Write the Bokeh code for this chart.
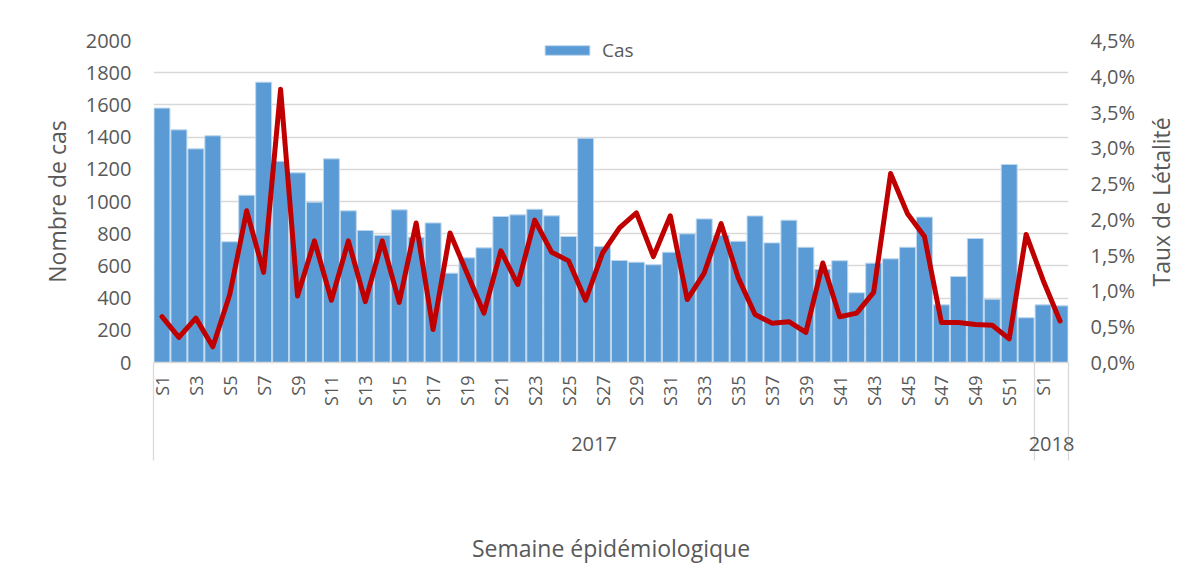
import math
from bokeh.plotting import figure
from bokeh.models import (Range1d, LinearAxis, FixedTicker, CustomJSTickFormatter,
                          Legend, LegendItem)
from bokeh.embed import file_html
from bokeh.resources import INLINE

# ---- data ----
years = ["2017"] * 52 + ["2018"] * 2
weeks = ["S%d" % i for i in range(1, 53)] + ["S1", "S2"]
cas = [1580, 1445, 1327, 1408, 750, 1039, 1741, 1250, 1178, 996,
       1265, 942, 820, 790, 948, 778, 867, 555, 650, 712,
       907, 917, 952, 911, 783, 1393, 720, 634, 623, 607,
       685, 799, 892, 790, 753, 910, 743, 884, 716, 578,
       632, 433, 617, 644, 716, 903, 358, 534, 770, 393,
       1230, 278, 358, 352]
taux = [0.64, 0.35, 0.62, 0.22, 0.95, 2.12, 1.26, 3.82, 0.93, 1.70,
        0.87, 1.70, 0.85, 1.70, 0.84, 1.95, 0.46, 1.81, 1.25, 0.69,
        1.56, 1.09, 1.99, 1.54, 1.42, 0.87, 1.53, 1.88, 2.09, 1.48,
        2.05, 0.88, 1.25, 1.94, 1.19, 0.67, 0.55, 0.57, 0.42, 1.39,
        0.64, 0.69, 0.98, 2.64, 2.08, 1.76, 0.56, 0.56, 0.53, 0.52,
        0.33, 1.79, 1.15, 0.58]
left_ticks = list(range(0, 2001, 200))
right_ticks = [i * 0.5 for i in range(10)]

FONT = "Open Sans"
TXT = "#595959"
GRID = "#D9D9D9"

n = len(cas)
xs = [i + 0.5 for i in range(n)]

# group boundaries / centres
bounds = [0]
centres = []
start = 0
for i in range(1, n + 1):
    if i == n or years[i] != years[start]:
        bounds.append(i)
        centres.append((start + i) / 2)
        start = i

W, H = 1196, 580
FRAME_H = 322
p = figure(width=W, height=H, x_range=Range1d(0, n), y_range=Range1d(0, 2000),
           output_backend="svg", toolbar_location=None,
           min_border_left=153, min_border_right=W - 1068, min_border_top=40,
           min_border_bottom=H - 40 - FRAME_H)
p.outline_line_color = None
p.extra_y_ranges = {"taux": Range1d(0, right_ticks[-1])}

bars = p.vbar(x=xs, top=cas, width=0.94, fill_color="#5B9BD5", line_color="#BDD7EE", line_width=1)
p.line(xs, taux, y_range_name="taux", line_color="#C00000", line_width=5,
       line_join="round", line_cap="round")

# grid
p.xgrid.grid_line_color = None
p.ygrid.ticker = FixedTicker(ticks=left_ticks)
p.ygrid.grid_line_color = GRID
p.ygrid.grid_line_width = 1.3

# x axis (weeks)
SEP = 98
xa = p.xaxis[0]
xa.ticker = FixedTicker(ticks=xs[::2], minor_ticks=bounds)
xa.formatter = CustomJSTickFormatter(args=dict(labels=weeks),
                                     code="return labels[Math.floor(tick)];")
xa.major_label_orientation = math.pi / 2
xa.major_tick_line_color = None
xa.major_tick_out = 0
xa.major_tick_in = 0
xa.minor_tick_line_color = GRID
xa.minor_tick_line_width = 1.3
xa.minor_tick_out = SEP
xa.minor_tick_in = 0
xa.axis_line_color = GRID
xa.axis_line_width = 1.3
xa.major_label_standoff = 13 - SEP
xa.major_label_text_font = FONT
xa.major_label_text_font_size = "18px"
xa.major_label_text_color = TXT

# year axis
ya_year = LinearAxis(ticker=FixedTicker(ticks=centres, minor_ticks=[]),
                     formatter=CustomJSTickFormatter(args=dict(years=years),
                                                     code="return years[Math.min(Math.floor(tick), years.length-1)];"),
                     axis_line_color=None, major_tick_line_color=None, minor_tick_line_color=None,
                     major_tick_out=0, major_tick_in=0,
                     major_label_standoff=28, major_label_text_font=FONT,
                     major_label_text_font_size="20px", major_label_text_color=TXT,
                     axis_label="Semaine épidémiologique", axis_label_standoff=78,
                     axis_label_text_font=FONT, axis_label_text_font_size="23px",
                     axis_label_text_font_style="normal", axis_label_text_color=TXT)
p.add_layout(ya_year, "below")

# left axis
la = p.yaxis[0]
la.ticker = FixedTicker(ticks=left_ticks, minor_ticks=[])
la.axis_line_color = None
la.major_tick_line_color = None
la.minor_tick_line_color = None
la.major_tick_out = 0
la.major_label_standoff = 22
la.major_label_text_font = FONT
la.major_label_text_font_size = "20px"
la.major_label_text_color = TXT
la.axis_label = "Nombre de cas"
la.axis_label_standoff = 10
la.axis_label_text_font = FONT
la.axis_label_text_font_size = "23px"
la.axis_label_text_font_style = "normal"
la.axis_label_text_color = TXT

# right axis
ra = LinearAxis(y_range_name="taux", ticker=FixedTicker(ticks=right_ticks, minor_ticks=[]),
                formatter=CustomJSTickFormatter(code="return tick.toFixed(1).replace('.', ',') + '%';"),
                axis_line_color=None, major_tick_line_color=None, minor_tick_line_color=None,
                major_tick_out=0, major_label_standoff=22, major_label_text_font=FONT,
                major_label_text_font_size="20px", major_label_text_color=TXT)
p.add_layout(ra, "right")

# right title (reads bottom-to-top, as in the reference); anchored so the text is centred
right_title = "Taux de Létalité"
half_text_px = 85
anchor = right_ticks[-1] / 2 - half_text_px * right_ticks[-1] / FRAME_H
rt = LinearAxis(y_range_name="taux",
                ticker=FixedTicker(ticks=[anchor], minor_ticks=[]),
                formatter=CustomJSTickFormatter(args=dict(t=right_title), code="return t;"),
                axis_line_color=None, major_tick_line_color=None, minor_tick_line_color=None,
                major_tick_out=0, major_tick_in=0, major_label_standoff=22,
                major_label_orientation=math.pi / 2, major_label_text_font=FONT,
                major_label_text_font_size="23px", major_label_text_color=TXT)
p.add_layout(rt, "right")

legend = Legend(items=[LegendItem(label="Cas", renderers=[bars])], location=(386, FRAME_H - 28 + 5),
                orientation="horizontal", glyph_width=56, glyph_height=12, label_standoff=7,
                padding=3, margin=0, border_line_color=None, background_fill_alpha=0,
                label_text_font=FONT, label_text_font_size="19px", label_text_color=TXT,
                label_height=22, label_width=40)
p.add_layout(legend)

open("out.html", "w").write(file_html(p, INLINE))
